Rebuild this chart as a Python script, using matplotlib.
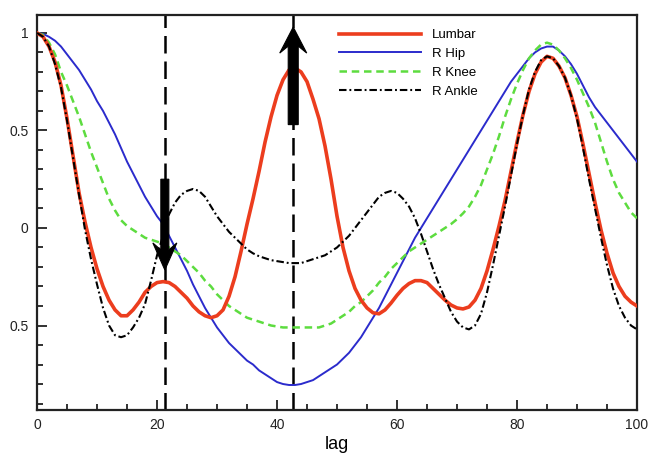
import numpy as np
import matplotlib
matplotlib.use("Agg")
import matplotlib.pyplot as plt
from matplotlib.patches import Polygon
from matplotlib.transforms import Affine2D

plt.rcParams['font.family'] = ['Liberation Sans', 'DejaVu Sans']

lag = list(range(0, 101))

lumbar = [1.00, 0.98, 0.93, 0.85, 0.73, 0.56, 0.37, 0.18, 0.03, -0.10,
          -0.21, -0.30, -0.37, -0.42, -0.45, -0.45, -0.42, -0.38, -0.33, -0.30,
          -0.28, -0.275, -0.28, -0.30, -0.33, -0.36, -0.40, -0.43, -0.45, -0.46,
          -0.45, -0.42, -0.35, -0.25, -0.12, 0.02, 0.15, 0.29, 0.44, 0.57,
          0.68, 0.76, 0.81, 0.82, 0.80, 0.75, 0.66, 0.56, 0.42, 0.25,
          0.06, -0.10, -0.22, -0.31, -0.37, -0.41, -0.435, -0.44, -0.42, -0.385,
          -0.345, -0.31, -0.285, -0.27, -0.27, -0.28, -0.31, -0.34, -0.37, -0.395,
          -0.41, -0.415, -0.405, -0.37, -0.31, -0.22, -0.11, 0.01, 0.14, 0.29,
          0.44, 0.58, 0.70, 0.79, 0.85, 0.88, 0.87, 0.83, 0.77, 0.68,
          0.57, 0.43, 0.28, 0.13, -0.01, -0.13, -0.23, -0.30, -0.35, -0.38,
          -0.40]

hip = [1.00, 0.995, 0.98, 0.96, 0.93, 0.89, 0.85, 0.81, 0.76, 0.71,
       0.65, 0.60, 0.54, 0.48, 0.41, 0.34, 0.28, 0.22, 0.16, 0.11,
       0.06, 0.02, -0.04, -0.10, -0.16, -0.22, -0.29, -0.35, -0.41, -0.46,
       -0.51, -0.55, -0.59, -0.62, -0.65, -0.68, -0.70, -0.73, -0.75, -0.77,
       -0.79, -0.80, -0.805, -0.805, -0.80, -0.79, -0.78, -0.76, -0.74, -0.72,
       -0.70, -0.67, -0.64, -0.60, -0.56, -0.51, -0.46, -0.41, -0.35, -0.29,
       -0.23, -0.17, -0.11, -0.05, 0.00, 0.05, 0.10, 0.15, 0.20, 0.25,
       0.30, 0.35, 0.40, 0.45, 0.50, 0.55, 0.60, 0.65, 0.70, 0.75,
       0.79, 0.83, 0.87, 0.90, 0.92, 0.93, 0.93, 0.91, 0.88, 0.84,
       0.79, 0.73, 0.67, 0.62, 0.58, 0.54, 0.50, 0.46, 0.42, 0.38,
       0.34]

knee = [1.00, 0.99, 0.95, 0.89, 0.80, 0.73, 0.65, 0.57, 0.48, 0.39,
        0.31, 0.23, 0.15, 0.09, 0.04, 0.01, -0.01, -0.03, -0.05, -0.06,
        -0.07, -0.08, -0.10, -0.12, -0.14, -0.17, -0.20, -0.23, -0.27, -0.30,
        -0.34, -0.37, -0.40, -0.42, -0.44, -0.46, -0.47, -0.48, -0.49, -0.50,
        -0.505, -0.51, -0.51, -0.51, -0.51, -0.51, -0.51, -0.51, -0.50, -0.49,
        -0.47, -0.45, -0.43, -0.40, -0.38, -0.35, -0.32, -0.28, -0.25, -0.21,
        -0.18, -0.15, -0.12, -0.10, -0.08, -0.06, -0.04, -0.02, 0.00, 0.02,
        0.045, 0.075, 0.11, 0.16, 0.22, 0.30, 0.38, 0.47, 0.57, 0.66,
        0.74, 0.81, 0.87, 0.91, 0.94, 0.95, 0.94, 0.91, 0.87, 0.82,
        0.76, 0.69, 0.62, 0.54, 0.44, 0.34, 0.25, 0.18, 0.13, 0.08,
        0.05]

ankle = [1.00, 0.98, 0.93, 0.84, 0.72, 0.55, 0.36, 0.17, -0.01, -0.16,
         -0.29, -0.41, -0.50, -0.55, -0.56, -0.55, -0.51, -0.46, -0.39, -0.27,
         -0.14, -0.04, 0.07, 0.13, 0.17, 0.19, 0.20, 0.19, 0.16, 0.11,
         0.06, 0.02, -0.02, -0.05, -0.08, -0.11, -0.13, -0.145, -0.155, -0.165,
         -0.17, -0.175, -0.18, -0.18, -0.18, -0.17, -0.16, -0.15, -0.14, -0.12,
         -0.10, -0.07, -0.04, 0.00, 0.04, 0.08, 0.12, 0.16, 0.18, 0.19,
         0.18, 0.15, 0.11, 0.05, -0.03, -0.12, -0.21, -0.29, -0.36, -0.43,
         -0.48, -0.51, -0.52, -0.50, -0.44, -0.33, -0.19, -0.04, 0.11, 0.27,
         0.43, 0.58, 0.71, 0.80, 0.86, 0.88, 0.87, 0.83, 0.77, 0.68,
         0.56, 0.41, 0.25, 0.10, -0.05, -0.19, -0.31, -0.40, -0.46, -0.50,
         -0.52]

marked_lags = [21.3, 42.7]
x_ticks = [0, 20, 40, 60, 80, 100]
y_ticks = [-0.5, 0, 0.5, 1]
y_ticklabels = ["0.5", "0", "0.5", "1"]

fig = plt.figure(figsize=(6.5, 4.54), dpi=100)
ax = fig.add_axes([0.057, 0.097, 0.923, 0.870])

ax.plot(lag, lumbar, color='#ec3d1e', lw=2.6, label='Lumbar', zorder=4)
ax.plot(lag, hip, color='#2b2bcc', lw=1.4, label='R Hip', zorder=3)
ax.plot(lag, knee, color='#5ddc3f', lw=1.8, dashes=(3.0, 1.9), label='R Knee', zorder=3)
ax.plot(lag, ankle, color='black', lw=1.5, dashes=(3.6, 1.4, 0.9, 1.4),
        label='R Ankle', zorder=5)

for xv in marked_lags:
    ax.axvline(xv, color='black', lw=1.8, dashes=(7.0, 3.2), zorder=2)

ax.set_xlim(0, 100)
ax.set_ylim(-0.933, 1.092)


def block_arrow(x, y_tail, y_tip, shaft_w, head_w, head_l, notch):
    """Thick vertical arrow with a swept-back head; sizes in pixels."""
    tx, ty_tail = ax.transData.transform((x, y_tail))
    _, ty_tip = ax.transData.transform((x, y_tip))
    d = 1.0 if ty_tip > ty_tail else -1.0
    length = abs(ty_tip - ty_tail)
    sw, hw = shaft_w / 2.0, head_w / 2.0
    base = length - head_l
    pts = [(-sw, 0), (-sw, base + notch), (-hw, base), (0, length),
           (hw, base), (sw, base + notch), (sw, 0)]
    trans = Affine2D().scale(1, d).translate(tx, ty_tail)
    poly = Polygon(pts, closed=True, transform=trans, facecolor='black',
                   edgecolor='black', lw=0.8, zorder=6)
    ax.add_patch(poly)


block_arrow(marked_lags[0], 0.25, -0.215, 8, 24, 27, 7)
block_arrow(marked_lags[1], 0.53, 1.03, 10, 27, 26, 7)

ax.set_xticks(x_ticks)
ax.set_xticks(np.arange(0, 101, 5), minor=True)
ax.set_yticks(y_ticks)
ax.set_yticklabels(y_ticklabels)
ax.set_yticks(np.arange(-0.9, 1.05, 0.1), minor=True)
ax.tick_params(which='both', direction='in', top=False, right=False,
               labelsize=10, width=1.3, colors='#222222')
ax.tick_params(which='major', length=7, pad=6)
ax.tick_params(which='minor', length=4)
for s in ax.spines.values():
    s.set_linewidth(1.6)
    s.set_color('#222222')

ax.set_xlabel('lag', fontsize=13, labelpad=3)

leg = ax.legend(loc='upper left', bbox_to_anchor=(0.495, 0.978), frameon=False,
                fontsize=9.5, handlelength=6.2, handletextpad=0.8,
                labelspacing=0.5, borderaxespad=0)

fig.savefig('out.png', dpi=100)
